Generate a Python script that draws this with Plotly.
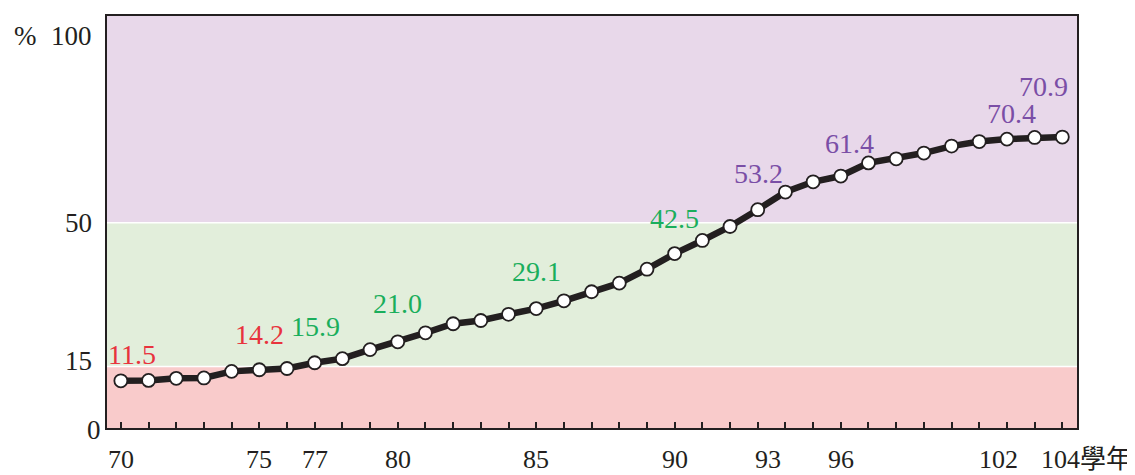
import plotly.graph_objects as go

years = list(range(70, 105))
values = [11.5, 11.6, 12.1, 12.2, 13.8, 14.2, 14.5, 15.9, 16.9, 19.1,
          21.0, 23.2, 25.4, 26.2, 27.7, 29.1, 31.0, 33.2, 35.3, 38.7,
          42.5, 45.7, 49.1, 53.2, 57.5, 60.0, 61.4, 64.6, 65.6, 67.0,
          68.7, 69.8, 70.4, 70.8, 70.9]

xtick_years = [70, 75, 77, 80, 85, 90, 93, 96, 102, 104]
xtick_text = ["70", "75", "77", "80", "85", "90", "93", "96", "102", "104學年"]
ytick_vals = [0, 15, 50, 100]
ytick_text = ["0", "15", "50", "100"]

label_years = [70, 75, 77, 80, 85, 90, 93, 96, 102, 104]
# per-label offsets (px) for placement
label_offsets = {70: (11, 26), 75: (0, 35), 77: (1, 36), 80: (0, 38), 85: (0, 37),
                 90: (0, 35), 93: (1, 36), 96: (9, 33), 102: (5, 26), 104: (-19, 51)}
xlab_shift = {93: 10, 102: -8, 104: -6}

bands = [(0, 15, "#f9cbcb"), (15, 50, "#e2eedb"), (50, 100.4, "#e8d8ea")]
RED, GREEN, PURPLE = "#e8333d", "#1aae5c", "#7a4ea6"
INK = "#231f20"
SERIF = "Liberation Serif, Times New Roman, serif"

fig = go.Figure()

fig.add_trace(go.Scatter(
    x=years, y=values, mode="lines+markers",
    line=dict(color=INK, width=6.5),
    marker=dict(size=13, color="white", line=dict(color=INK, width=1.8)),
    hoverinfo="skip", showlegend=False, cliponaxis=False,
))

shapes = []
for y0, y1, c in bands:
    shapes.append(dict(type="rect", xref="paper", yref="y", x0=0, x1=1, y0=y0, y1=y1,
                       fillcolor=c, line=dict(width=0), layer="below"))
for yb in (15, 50):
    shapes.append(dict(type="line", xref="paper", yref="y", x0=0, x1=1, y0=yb, y1=yb,
                       line=dict(color="white", width=1.5), layer="below"))

annotations = []
for yr in label_years:
    v = values[years.index(yr)]
    col = RED if v < 15 else (GREEN if v < 50 else PURPLE)
    dx, dy = label_offsets[yr]
    annotations.append(dict(x=yr, y=v, xref="x", yref="y", text=f"{v:.1f}",
                            showarrow=False, xshift=dx, yshift=dy,
                            font=dict(family=SERIF, size=28, color=col)))

# x tick labels
for yr, t in zip(xtick_years, xtick_text):
    if yr == 104:
        annotations.append(dict(x=yr, y=0, xref="x", yref="y", text=t, showarrow=False,
                                xanchor="left", yanchor="middle", xshift=-23, yshift=-31,
                                font=dict(family=SERIF + ", Noto Sans CJK TC", size=26, color=INK)))
    else:
        annotations.append(dict(x=yr, y=0, xref="x", yref="y", text=t, showarrow=False,
                                xanchor="center", yanchor="middle",
                                xshift=xlab_shift.get(yr, 0), yshift=-31,
                                font=dict(family=SERIF, size=26, color=INK)))

# y tick labels
ylab_shift = {0: (-4, -2), 15: (-13, 5), 50: (-13, 0), 100: (-13, -18)}
for v, t in zip(ytick_vals, ytick_text):
    dx, dy = ylab_shift[v]
    annotations.append(dict(x=0, y=v, xref="paper", yref="y", text=t, showarrow=False,
                            xanchor="right", yanchor="middle", xshift=dx, yshift=dy,
                            font=dict(family=SERIF, size=27, color=INK)))
annotations.append(dict(x=0, y=100, xref="paper", yref="y", text="%", showarrow=False,
                        xanchor="center", yanchor="middle", xshift=-82, yshift=-18,
                        font=dict(family=SERIF, size=27, color=INK)))

# page body has an 8px default margin, so the figure is sized 8px smaller
fig.update_layout(
    width=1127, height=467,
    margin=dict(l=99, r=58, t=8, b=47),
    paper_bgcolor="white", plot_bgcolor="white",
    shapes=shapes, annotations=annotations,
    xaxis=dict(range=[69.5, 104.53], tickmode="array", tickvals=years,
               showticklabels=False,
               ticks="inside", ticklen=6, tickwidth=1.5, tickcolor=INK,
               automargin=False,
               showline=True, linecolor=INK, linewidth=2, mirror=True,
               showgrid=False, zeroline=False),
    yaxis=dict(range=[0, 100.4], showticklabels=False, ticks="", automargin=False,
               showline=True, linecolor=INK, linewidth=2, mirror=True,
               showgrid=False, zeroline=False),
)

fig.write_html("out.html")
